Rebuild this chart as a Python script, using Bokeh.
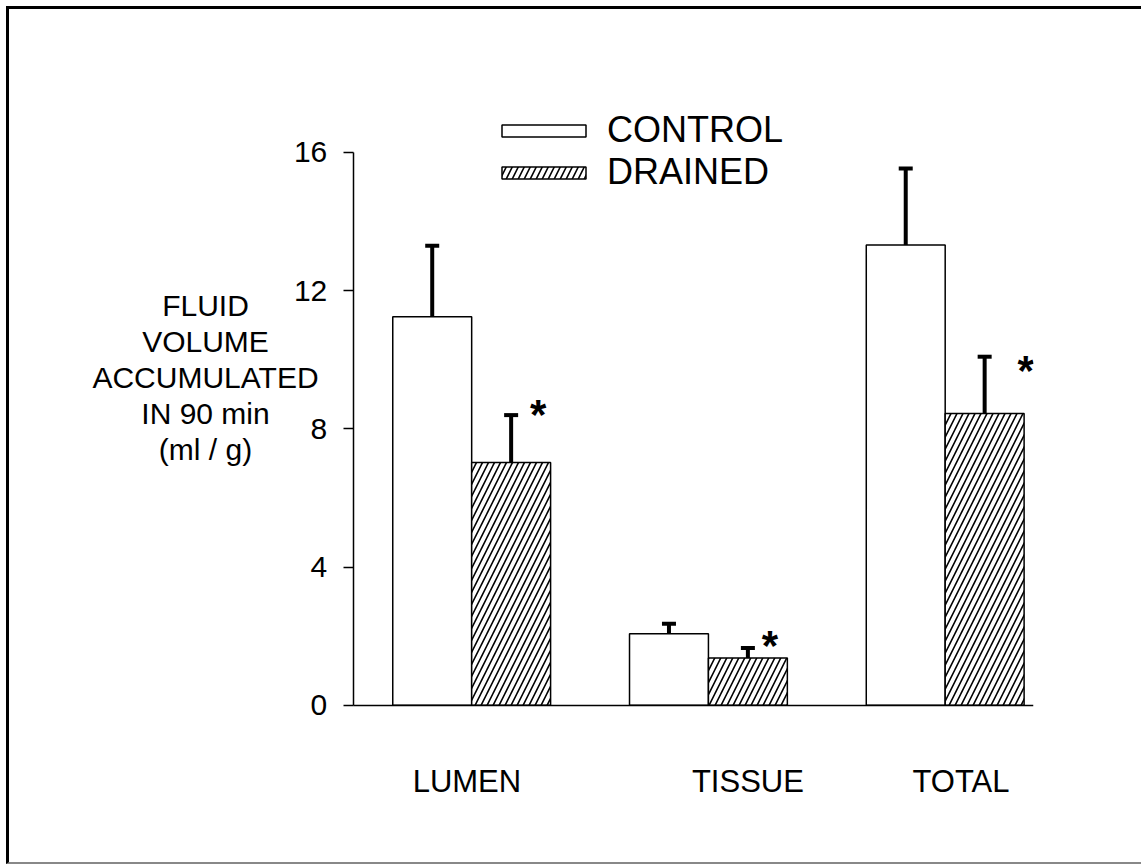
from bokeh.plotting import figure
from bokeh.models import (ColumnDataSource, Range1d, FixedTicker, Whisker, TeeHead,
                          Legend, LegendItem, Label, LinearAxis)
from bokeh.core.properties import value
from bokeh.embed import file_html
from bokeh.resources import INLINE

# ---------------- data ----------------
categories = ["LUMEN", "TISSUE", "TOTAL"]
control = [11.25, 2.07, 13.32]
control_err = [2.05, 0.29, 2.22]
drained = [7.03, 1.37, 8.45]
drained_err = [1.37, 0.29, 1.64]
significant = ["*", "*", "*"]
y_ticks = [0, 4, 8, 12, 16]
y_label_lines = ["FLUID", "VOLUME", "ACCUMULATED", "IN 90 min", "(ml / g)"]

# ---------------- layout helpers ----------------
group_centers = [1 + 3 * i for i in range(len(categories))]
ctrl_x = [c - 0.5 for c in group_centers]
drn_x = [c + 0.5 for c in group_centers]
label_shift = [-0.06, 0.5, 0.2]
label_pos = [c + s for c, s in zip(group_centers, label_shift)]
star_dx = [27, 22, 41]
star_dy = [-1, -2, 14]
AXIS_X = -0.5
X_START = -3.944
X_END = 8.119

FONT = "Liberation Sans"

p = figure(width=1135, height=858, output_backend="svg", toolbar_location=None,
           x_range=Range1d(X_START, X_END), y_range=Range1d(-0.583, 19.82),
           min_border_left=72, min_border_right=111, min_border_top=11,
           min_border_bottom=142)
p.margin = (6, 0, 0, 6)
p.styles = {"border-top": "3px solid black", "border-left": "3px solid black",
            "border-bottom": "2px solid #888888", "box-sizing": "border-box"}
p.outline_line_color = None
p.xgrid.visible = False
p.ygrid.visible = False
p.background_fill_color = "white"
p.border_fill_color = "white"

src_c = ColumnDataSource(dict(x=ctrl_x, top=control,
                              upper=[v + e for v, e in zip(control, control_err)]))
src_d = ColumnDataSource(dict(x=drn_x, top=drained,
                              upper=[v + e for v, e in zip(drained, drained_err)],
                              star=significant, dx=star_dx, dy=star_dy))

r_c = p.vbar(x="x", top="top", width=1.0, bottom=0, source=src_c,
             fill_color="white", line_color="black", line_width=1.5)
r_d = p.vbar(x="x", top="top", width=1.0, bottom=0, source=src_d,
             fill_color="white", line_color="black", line_width=1.5,
             hatch_pattern="/", hatch_color="black", hatch_weight=1.6, hatch_scale=12)

for src in (src_c, src_d):
    w = Whisker(source=src, base="x", upper="upper", lower="top", dimension="height",
                line_color="black", line_width=4,
                upper_head=TeeHead(size=14, line_width=4, line_color="black"),
                lower_head=None)
    p.add_layout(w)

p.text(x="x", y="upper", text="star", source=src_d, x_offset="dx", y_offset="dy",
       text_font=value(FONT), text_font_size="42px", text_font_style="bold",
       text_align="center", text_baseline="middle", text_color="black")

# y axis (drawn at a fixed x so the title can sit inside the frame)
ya = p.yaxis[0]
ya.fixed_location = AXIS_X
ya.ticker = FixedTicker(ticks=y_ticks)
ya.bounds = (0, 16)
ya.minor_tick_line_color = None
ya.major_tick_in = 0
ya.major_tick_out = 10
ya.major_tick_line_width = 1.5
ya.axis_line_width = 1.5
ya.major_label_standoff = 16
ya.major_label_text_font = FONT
ya.major_label_text_font_size = "30px"
ya.major_label_text_color = "black"

# x axis: category labels (line hidden)
xa = p.xaxis[0]
xa.ticker = FixedTicker(ticks=label_pos)
xa.major_label_overrides = {lp: c for lp, c in zip(label_pos, categories)}
xa.major_tick_line_color = None
xa.minor_tick_line_color = None
xa.axis_line_color = None
xa.major_label_standoff = 32
xa.major_label_text_font = FONT
xa.major_label_text_font_size = "31px"
xa.major_label_text_color = "black"

# baseline axis at y = 0
base_axis = LinearAxis(fixed_location=0, bounds=(AXIS_X, X_END),
                       ticker=FixedTicker(ticks=[]), axis_line_width=1.5,
                       major_tick_line_color=None, minor_tick_line_color=None,
                       major_label_text_font_size="0px")
p.add_layout(base_axis, "below")

# y-axis title lines (horizontal, centred)
for i, line in enumerate(y_label_lines):
    p.add_layout(Label(x=124, y=420 - 36 * i, x_units="screen", y_units="screen",
                       text=line, text_font=FONT, text_font_size="30px",
                       text_align="center", text_baseline="middle", text_color="black"))

legend = Legend(items=[LegendItem(label="CONTROL", renderers=[r_c]),
                       LegendItem(label="DRAINED", renderers=[r_d])],
                location=(410, 532), orientation="vertical",
                glyph_width=105, glyph_height=15, label_text_font=FONT,
                label_text_font_size="36px", label_text_color="black",
                label_standoff=11, spacing=0,
                padding=0, margin=0, border_line_color=None,
                background_fill_alpha=0)
p.add_layout(legend)

open("out.html", "w").write(file_html(p, INLINE))
